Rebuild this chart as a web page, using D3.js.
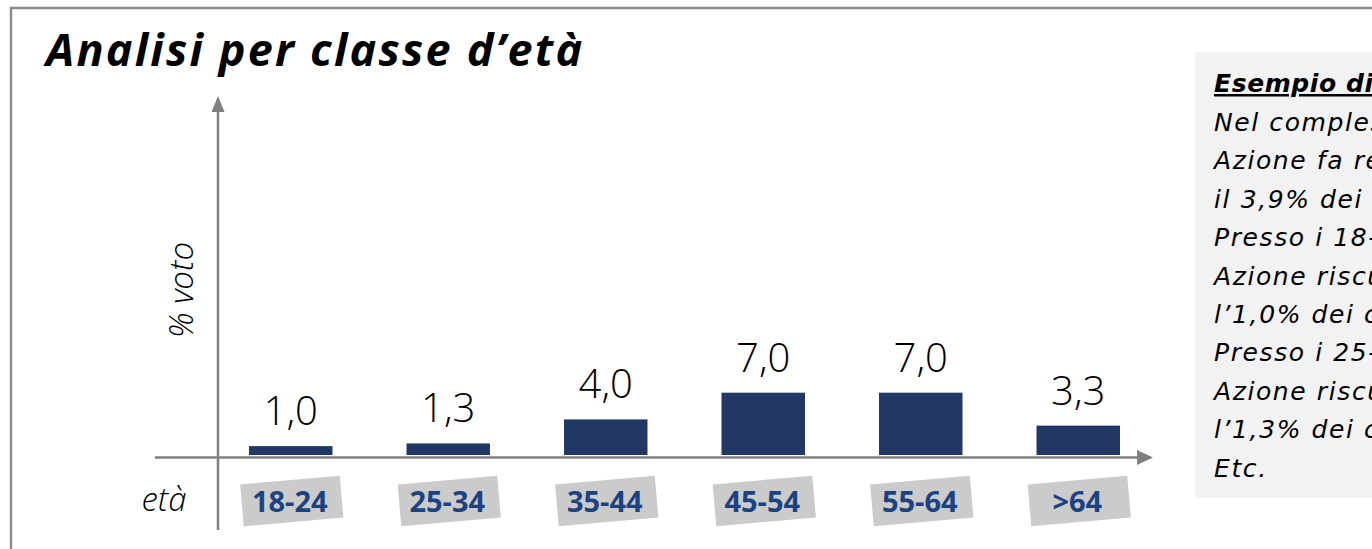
<!DOCTYPE html>
<html>
<head>
<meta charset="utf-8">
<script src="https://cdn.jsdelivr.net/npm/d3@7"></script>
<style>
  html, body { margin: 0; padding: 0; background: #fff; overflow: hidden; }
  text { font-family: "Open Sans", "DejaVu Sans", sans-serif; }
  .note { font-family: "DejaVu Sans", sans-serif; }
</style>
</head>
<body>
<script>
const width = 1372;
const height = 549;

var categories = ["18-24", "25-34", "35-44", "45-54", "55-64", ">64"];
var values = [1.0, 1.3, 4.0, 7.0, 7.0, 3.3];
var valueLabels = ["1,0", "1,3", "4,0", "7,0", "7,0", "3,3"];
var noteTitle = "Esempio di lettura:";
var noteLines = [
  "Nel complesso",
  "Azione fa registrare",
  "il 3,9% dei consensi.",
  "Presso i 18-24enni",
  "Azione riscuote",
  "l\u20191,0% dei consensi.",
  "Presso i 25-34enni",
  "Azione riscuote",
  "l\u20191,3% dei consensi.",
  "Etc."
];

var svg = d3.select("body")
 .append("svg")
 .attr("width", width)
 .attr("height", height);

// frame of the slide (only left and top edges visible)
svg.append("path")
 .attr("d", "M11," + height + " L11,8 L" + width + ",8")
 .attr("fill", "none")
 .attr("stroke", "#8c8c8c")
 .attr("stroke-width", 2.5);

// title
svg.append("text")
 .attr("x", 46)
 .attr("y", 66)
 .attr("font-size", 45)
 .attr("font-weight", "bold")
 .attr("font-style", "italic")
 .attr("letter-spacing", 2.2)
 .attr("fill", "#000")
 .text("Analisi per classe d\u2019et\u00e0");

// scales
var xscale = d3.scaleBand()
 .domain(categories)
 .range([212, 1157])
 .paddingInner(0.47)
 .paddingOuter(0.235);

var yscale = d3.scaleLinear()
 .domain([0, 40])
 .range([455, 99]);

// axes
var axisColor = "#808080";
var axisX = 218;
var axisY = 457.5;

svg.append("line")
 .attr("x1", axisX).attr("x2", axisX)
 .attr("y1", 108).attr("y2", 530)
 .attr("stroke", axisColor).attr("stroke-width", 2.5);
svg.append("path")
 .attr("d", "M" + axisX + ",96 L" + (axisX - 6.5) + ",112 L" + (axisX + 6.5) + ",112 Z")
 .attr("fill", axisColor);

svg.append("line")
 .attr("x1", 155).attr("x2", 1140)
 .attr("y1", axisY).attr("y2", axisY)
 .attr("stroke", axisColor).attr("stroke-width", 2.5);
svg.append("path")
 .attr("d", "M1153," + axisY + " L1137," + (axisY - 7.5) + " L1137," + (axisY + 7.5) + " Z")
 .attr("fill", axisColor);

// axis titles
svg.append("text")
 .attr("transform", "translate(193,290) rotate(-90)")
 .attr("text-anchor", "middle")
 .attr("font-size", 33)
 .attr("font-style", "italic")
 .attr("font-weight", 300)
 .text("% voto");

svg.append("text")
 .attr("x", 164)
 .attr("y", 511)
 .attr("text-anchor", "middle")
 .attr("font-size", 33)
 .attr("font-style", "italic")
 .attr("font-weight", 300)
 .text("et\u00e0");

// bars
svg.selectAll("rect.bar")
 .data(values)
 .enter().append("rect")
 .attr("class", "bar")
 .attr("x", (d, i) => xscale(categories[i]))
 .attr("width", xscale.bandwidth())
 .attr("y", d => yscale(d))
 .attr("height", d => yscale(0) - yscale(d))
 .attr("fill", "#213864");

// value labels
svg.selectAll("text.val")
 .data(values)
 .enter().append("text")
 .attr("class", "val")
 .attr("x", (d, i) => xscale(categories[i]) + xscale.bandwidth() / 2)
 .attr("y", d => yscale(d) - 21)
 .attr("text-anchor", "middle")
 .attr("font-size", 40)
 .attr("font-weight", 300)
 .attr("fill", "#000")
 .text((d, i) => valueLabels[i]);

// category labels on grey tilted boxes
var cat = svg.selectAll("g.cat")
 .data(categories)
 .enter().append("g")
 .attr("class", "cat")
 .attr("transform", d => "translate(" + (xscale(d) + xscale.bandwidth() / 2 + 1) + ",501)");

cat.append("rect")
 .attr("x", -50).attr("y", -21)
 .attr("width", 100).attr("height", 42)
 .attr("transform", "rotate(-5)")
 .attr("fill", "#cbcbcb");

cat.append("text")
 .attr("x", -2)
 .attr("y", 11)
 .attr("text-anchor", "middle")
 .attr("font-size", 29)
 .attr("font-weight", "bold")
 .attr("fill", "#1b4382")
 .text(d => d);

// example note panel
svg.append("rect")
 .attr("x", 1195).attr("y", 52)
 .attr("width", 200).attr("height", 446)
 .attr("fill", "#f2f2f2");

svg.append("text")
 .attr("class", "note")
 .attr("x", 1214)
 .attr("y", 92)
 .attr("font-size", 25)
 .attr("font-weight", "bold")
 .attr("font-style", "italic")
 .attr("letter-spacing", 0.6)
 .attr("text-decoration", "underline")
 .text(noteTitle);

svg.selectAll("text.noteline")
 .data(noteLines)
 .enter().append("text")
 .attr("class", "note noteline")
 .attr("x", 1214)
 .attr("y", (d, i) => 131 + i * 38.4)
 .attr("font-size", 25)
 .attr("font-style", "italic")
 .attr("letter-spacing", 1.6)
 .text(d => d);
</script>
</body>
</html>
